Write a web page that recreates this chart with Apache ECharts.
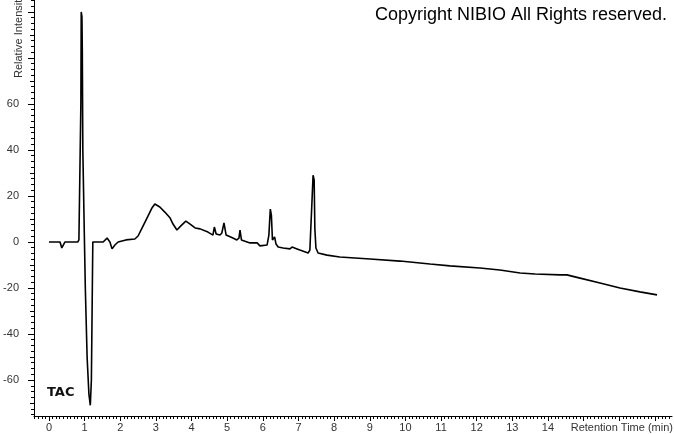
<!DOCTYPE html>
<html>
<head>
<meta charset="utf-8">
<script src="https://cdn.jsdelivr.net/npm/echarts@6/dist/echarts.min.js"></script>
<style>
html,body{margin:0;padding:0;background:#fff;}
#c{width:674px;height:434px;}
</style>
</head>
<body>
<div id="c"></div>
<script>
// Retention time (min)
const times = [0, 0.31, 0.36, 0.45, 0.81, 0.84, 0.88, 0.895, 0.905, 0.925, 0.935, 0.95, 0.99, 1.02, 1.07, 1.12, 1.16, 1.19, 1.21, 1.23,
  1.52, 1.63, 1.71, 1.77, 1.85, 1.94, 2.16, 2.41, 2.50, 2.61, 2.75, 2.89, 2.97, 3.11, 3.25, 3.40, 3.48, 3.59, 3.70, 3.84, 3.96,
  4.10, 4.24, 4.46, 4.60, 4.64, 4.69, 4.80, 4.85, 4.91, 4.97, 5.16, 5.27, 5.33, 5.36, 5.40, 5.64, 5.84, 5.92, 6.12, 6.17, 6.21,
  6.24, 6.27, 6.33, 6.37, 6.43, 6.57, 6.76, 6.82, 6.87, 6.96, 7.00, 7.04, 7.27, 7.32, 7.38, 7.41, 7.44, 7.46, 7.49, 7.55, 7.80,
  8.16, 9.01, 9.85, 10.69, 11.25, 12.09, 12.65, 13.22, 13.64, 13.66, 14.34, 14.39, 14.53, 14.90, 15.46, 16.02, 16.58, 17.06];
// Relative intensity
const intensity = [0, 0, -2.6, 0, 0, 0.9, 1.7, 60, 100, 98, 84, 40, 5, -20, -50, -66, -71, -60, -30, 0,
  0, 1.7, 0, -3.0, -1.3, 0, 0.9, 1.3, 2.6, 6.0, 10.4, 14.8, 16.5, 15.2, 13.0, 10.4, 7.8, 5.2, 7.0, 9.1, 7.8,
  6.1, 5.7, 4.3, 3.0, 6.5, 3.5, 3.0, 3.9, 8.3, 3.0, 1.7, 0.9, 1.7, 5.2, 0.9, -0.4, -0.4, -1.7, -1.3, 3.0, 14.3,
  11.7, 0.9, 2.2, -0.9, -2.2, -2.6, -3.0, -2.2, -3.0, -3.0, -2.2, -3.5, -4.8, -3.5, 18, 29, 27, 5.7, -2.6, -4.8, -5.7,
  -6.5, -7.4, -8.3, -9.6, -10.4, -11.3, -12.2, -13.5, -13.9, -14.3, -14.3, -13.9, -14.3, -15.7, -17.8, -20.0, -21.7, -23.0];
// Tick labels
const xLabels = [0, 1, 2, 3, 4, 5, 6, 7, 8, 9, 10, 11, 12, 13, 14];
const yLabels = [-60, -40, -20, 0, 20, 40, 60];

const X_MIN = -0.42, X_MAX = 17.48, Y_MIN = -75.65, Y_MAX = 105.2;

const xMajor = [], xMinor = [];
for (let i = 0; i <= 17; i++) xMajor.push(i);
for (let i = -4; i <= 174; i++) xMinor.push(+(i / 10).toFixed(1));
const yMajor = [], yMid = [], yMinor = [];
for (let v = -60; v <= 100; v += 20) yMajor.push(v);
for (let v = -70; v <= 100; v += 20) yMid.push(v);
for (let v = -75; v <= 105; v += 2.5) yMinor.push(v);

const data = times.map((t, i) => [t, intensity[i]]);

const chart = echarts.init(document.getElementById('c'), null, {renderer: 'canvas'});
const lbl = {fontFamily: 'Liberation Sans, Arial, sans-serif', fontSize: 11, color: '#333'};
chart.setOption({
  animation: false,
  backgroundColor: '#fff',
  grid: {left: 34, right: 2, top: 0, bottom: 18, containLabel: false},
  xAxis: [
    {type: 'value', min: X_MIN, max: X_MAX, splitLine: {show: false},
     axisLine: {show: true, onZero: false, lineStyle: {color: '#000', width: 1}},
     axisTick: {show: true, customValues: xMajor, length: 5, lineStyle: {color: '#000'}},
     axisLabel: Object.assign({customValues: xLabels, margin: 6}, lbl)},
    {type: 'value', min: X_MIN, max: X_MAX, position: 'bottom', splitLine: {show: false},
     axisLine: {show: false, onZero: false},
     axisTick: {show: true, customValues: xMinor, length: 3, lineStyle: {color: '#000'}},
     axisLabel: {show: false}}
  ],
  yAxis: [
    {type: 'value', min: Y_MIN, max: Y_MAX, splitLine: {show: false},
     axisLine: {show: true, onZero: false, lineStyle: {color: '#000', width: 1}},
     axisTick: {show: true, customValues: yMajor, length: 6, lineStyle: {color: '#000'}},
     axisLabel: Object.assign({customValues: yLabels, margin: 15}, lbl)},
    {type: 'value', min: Y_MIN, max: Y_MAX, position: 'left', splitLine: {show: false},
     axisLine: {show: false, onZero: false},
     axisTick: {show: true, customValues: yMid, length: 4, lineStyle: {color: '#000'}},
     axisLabel: {show: false}},
    {type: 'value', min: Y_MIN, max: Y_MAX, position: 'left', splitLine: {show: false},
     axisLine: {show: false, onZero: false},
     axisTick: {show: true, customValues: yMinor, length: 3, lineStyle: {color: '#000'}},
     axisLabel: {show: false}}
  ],
  series: [{
    type: 'line', data: data, xAxisIndex: 0, yAxisIndex: 0,
    showSymbol: false, symbol: 'none', smooth: false,
    lineStyle: {color: '#000', width: 1.6}
  }],
  graphic: [
    {type: 'text', x: 667, y: 15,
     style: {text: 'Copyright NIBIO All Rights reserved.', align: 'right', verticalAlign: 'middle',
       fontFamily: 'Liberation Sans, Arial, sans-serif', fontSize: 18, fill: '#000'}},
    {type: 'text', x: 19, y: 78, rotation: Math.PI / 2,
     style: {text: 'Relative Intensity', align: 'left', verticalAlign: 'middle',
       fontFamily: 'Liberation Sans, Arial, sans-serif', fontSize: 11, fill: '#333'}},
    {type: 'text', x: 673, y: 428,
     style: {text: 'Retention Time (min)', align: 'right', verticalAlign: 'middle',
       fontFamily: 'Liberation Sans, Arial, sans-serif', fontSize: 11, fill: '#333'}},
    {type: 'text', x: 47, y: 393,
     style: {text: 'TAC', align: 'left', verticalAlign: 'middle',
       fontFamily: 'DejaVu Sans, sans-serif', fontWeight: 'bold', fontSize: 13, fill: '#111'}}
  ]
});
</script>
</body>
</html>
